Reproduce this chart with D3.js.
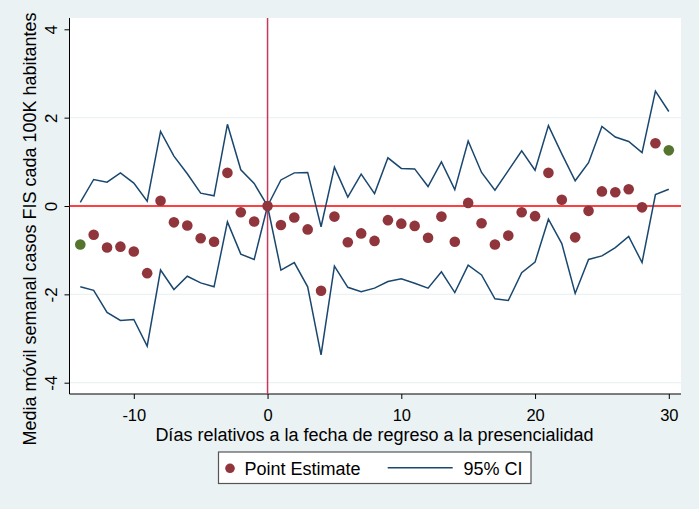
<!DOCTYPE html>
<html><head><meta charset="utf-8">
<script src="https://cdn.jsdelivr.net/npm/d3@7"></script>
<style>body{margin:0;background:#eaf2f3;}svg{display:block;}</style>
</head><body><svg id="c" width="699" height="509"></svg>
<script>
const days = d3.range(-14, 31);
const pointEst = [-0.87,-0.65,-0.94,-0.92,-1.03,-1.52,0.12,-0.37,-0.44,-0.73,-0.81,0.75,-0.14,-0.35,0,
  -0.43,-0.26,-0.53,-1.92,-0.24,-0.82,-0.62,-0.79,-0.32,-0.40,-0.45,-0.72,-0.24,-0.81,0.07,
  -0.39,-0.87,-0.67,-0.14,-0.23,0.75,0.14,-0.71,-0.11,0.33,0.31,0.38,-0.03,1.42,1.26];
const ciUpper = [0.08,0.60,0.54,0.75,0.52,0.11,1.69,1.13,0.73,0.29,0.23,1.85,0.82,0.51,0,
  0.59,0.75,0.76,-0.47,0.88,0.20,0.72,0.28,1.09,0.85,0.84,0.44,1.00,0.37,1.47,
  0.76,0.36,0.80,1.25,0.81,1.82,1.18,0.57,0.98,1.80,1.56,1.46,1.21,2.60,2.14];
const ciLower = [-1.83,-1.91,-2.41,-2.59,-2.57,-3.17,-1.45,-1.89,-1.59,-1.74,-1.83,-0.36,-1.09,-1.21,0,
  -1.45,-1.28,-1.83,-3.37,-1.36,-1.84,-1.94,-1.86,-1.71,-1.65,-1.75,-1.86,-1.49,-1.96,-1.34,
  -1.56,-2.10,-2.14,-1.51,-1.27,-0.30,-0.85,-1.98,-1.21,-1.13,-0.94,-0.69,-1.28,0.26,0.38];
const greenDays = [-14, 30];
const xTicks = [-10, 0, 10, 20, 30];
const yTicks = [-4, -2, 0, 2, 4];
const gridTicks = [-4, -2, 2];

const svg = d3.select("#c");
const font = "'Liberation Sans', Arial, sans-serif";
const L = 69.5, R = 681, T = 18, B = 394;
const x = d3.scaleLinear().domain([-10, 30]).range([133.8, 668.8]);
const y = d3.scaleLinear().domain([-4, 4]).range([382.7, 29.3]);
const fmt = d => String(d);

svg.append("rect").attr("x", L).attr("y", T).attr("width", R - L).attr("height", B - T).attr("fill", "#fff");

svg.append("g").selectAll("line").data(gridTicks).join("line")
  .attr("x1", L).attr("x2", R).attr("y1", d => y(d)).attr("y2", d => y(d))
  .attr("stroke", "#eaf2f3").attr("stroke-width", 1.2);

// axes
const ya = svg.append("g").attr("transform", `translate(${L},0)`)
  .call(d3.axisLeft(y).tickValues(yTicks).tickSize(5).tickFormat(fmt));
ya.select(".domain").attr("d", `M0,${T}V${B}`).attr("stroke", "#000");
ya.selectAll(".tick line").attr("stroke", "#000");
ya.selectAll(".tick text").attr("font-family", font).attr("font-size", 17).attr("fill", "#000")
  .attr("transform", "rotate(-90)").attr("x", 0).attr("y", -12.5).attr("dy", 0).attr("text-anchor", "middle");

const xa = svg.append("g").attr("transform", `translate(0,${B})`)
  .call(d3.axisBottom(x).tickValues(xTicks).tickSize(5).tickFormat(fmt));
xa.select(".domain").attr("d", `M${L},0H${R}`).attr("stroke", "#000");
xa.selectAll(".tick line").attr("stroke", "#000");
xa.selectAll(".tick text").attr("font-family", font).attr("font-size", 16.5).attr("fill", "#000").attr("y", 26.5).attr("dy", 0);

// reference lines
svg.append("line").attr("x1", L).attr("x2", R).attr("y1", y(0)).attr("y2", y(0))
  .attr("stroke", "#ff0000").attr("stroke-width", 1.5);
svg.append("line").attr("x1", x(0)).attr("x2", x(0)).attr("y1", T).attr("y2", B)
  .attr("stroke", "#c8385a").attr("stroke-width", 1.5);

// CI lines
const line = d3.line().x((d, i) => x(days[i])).y(d => y(d));
[ciUpper, ciLower].forEach(arr => {
  svg.append("path").attr("d", line(arr)).attr("fill", "none")
    .attr("stroke", "#1a476f").attr("stroke-width", 1.5).attr("stroke-linejoin", "miter");
});

// points
svg.append("g").selectAll("circle").data(days.map((d, i) => [d, pointEst[i]])).join("circle")
  .attr("cx", d => x(d[0])).attr("cy", d => y(d[1])).attr("r", 5.3)
  .attr("fill", d => greenDays.includes(d[0]) ? "#55752f" : "#90353b");

// titles
svg.append("text").attr("x", 374.5).attr("y", 440.5).attr("text-anchor", "middle")
  .attr("font-family", font).attr("font-size", 18).attr("fill", "#000")
  .text("Días relativos a la fecha de regreso a la presencialidad");
svg.append("text").attr("transform", "translate(36,229) rotate(-90)").attr("text-anchor", "middle")
  .attr("font-family", font).attr("font-size", 18).attr("fill", "#000")
  .text("Media móvil semanal casos FIS cada 100K habitantes");

// legend
const lg = svg.append("g");
lg.append("rect").attr("x", 218.5).attr("y", 452).attr("width", 312.5).attr("height", 31.5)
  .attr("fill", "#fff").attr("stroke", "#555").attr("stroke-width", 1.2);
lg.append("circle").attr("cx", 230).attr("cy", 468.3).attr("r", 4.8).attr("fill", "#90353b");
lg.append("text").attr("x", 244.5).attr("y", 474.5).attr("font-family", font).attr("font-size", 18).text("Point Estimate");
lg.append("line").attr("x1", 387.7).attr("x2", 452.7).attr("y1", 467.8).attr("y2", 467.8).attr("stroke", "#1a476f").attr("stroke-width", 1.5);
lg.append("text").attr("x", 463.5).attr("y", 474.5).attr("font-family", font).attr("font-size", 18).text("95% CI");
</script></body></html>
